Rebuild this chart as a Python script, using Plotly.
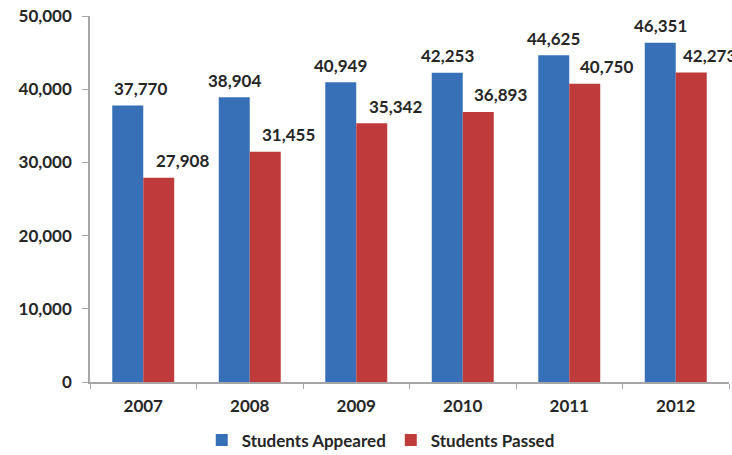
import plotly.graph_objects as go

years = ["2007", "2008", "2009", "2010", "2011", "2012"]
appeared = [37770, 38904, 40949, 42253, 44625, 46351]
passed = [27908, 31455, 35342, 36893, 40750, 42273]
y_ticks = [0, 10000, 20000, 30000, 40000, 50000]
y_tick_text = ["0", "10,000", "20,000", "30,000", "40,000", "50,000"]

# horizontal nudges (px) for the value labels, relative to each bar's centre
appeared_label_nudge = [13, 0, 0, 0, 0, 0]
passed_label_nudge = [24, 23, 24, 22, 22, 18]

FONT = "Lato"
TEXT_COLOR = "#262626"
AXIS_COLOR = "#A6A6A6"
BLUE = "#3770B7"
RED = "#BF3B3B"
BAR_PX = 31  # each bar's centre sits BAR_PX/2 from the category centre

fig = go.Figure()
fig.add_trace(go.Bar(name="Students Appeared", x=years, y=appeared,
                     marker=dict(color=BLUE, line=dict(width=0))))
fig.add_trace(go.Bar(name="Students Passed", x=years, y=passed,
                     marker=dict(color=RED, line=dict(width=0))))

label_font = dict(family=FONT, size=17, color=TEXT_COLOR, weight="bold")
for series, nudges, side in ((appeared, appeared_label_nudge, -1), (passed, passed_label_nudge, 1)):
    # on a category axis the annotation x is the category's index
    for idx, (v, dx) in enumerate(zip(series, nudges)):
        fig.add_annotation(x=idx, y=v, text=f"{v:,}", showarrow=False,
                           xshift=side * BAR_PX / 2 + dx, yshift=17,
                           xanchor="center", yanchor="middle",
                           font=label_font)

fig.update_layout(
    width=732, height=455,
    margin=dict(l=90, r=3, t=16, b=73, autoexpand=False),
    paper_bgcolor="white", plot_bgcolor="white",
    barmode="group", bargap=0.418, bargroupgap=0,
    font=dict(family=FONT, size=17, color=TEXT_COLOR, weight="bold"),
    showlegend=True,
    legend=dict(orientation="h", x=0.455, xanchor="center", y=-0.16, yanchor="middle",
                font=dict(family=FONT, size=17, color=TEXT_COLOR, weight="bold"),
                traceorder="normal"),
    xaxis=dict(type="category", range=[-0.5, len(years) - 0.5], automargin=False,
               showline=True, linecolor=AXIS_COLOR, linewidth=1.5,
               ticks="outside", tickson="boundaries", ticklen=5, tickcolor=AXIS_COLOR,
               ticklabelstandoff=8,
               showgrid=False, tickfont=label_font),
    yaxis=dict(range=[0, 50000], tickvals=y_ticks, ticktext=y_tick_text, automargin=False,
               showline=True, linecolor=AXIS_COLOR, linewidth=1.5,
               ticks="outside", ticklen=6, tickcolor=AXIS_COLOR, ticklabelstandoff=7,
               showgrid=False, zeroline=False, tickfont=label_font),
)

fig.write_html("out.html")
